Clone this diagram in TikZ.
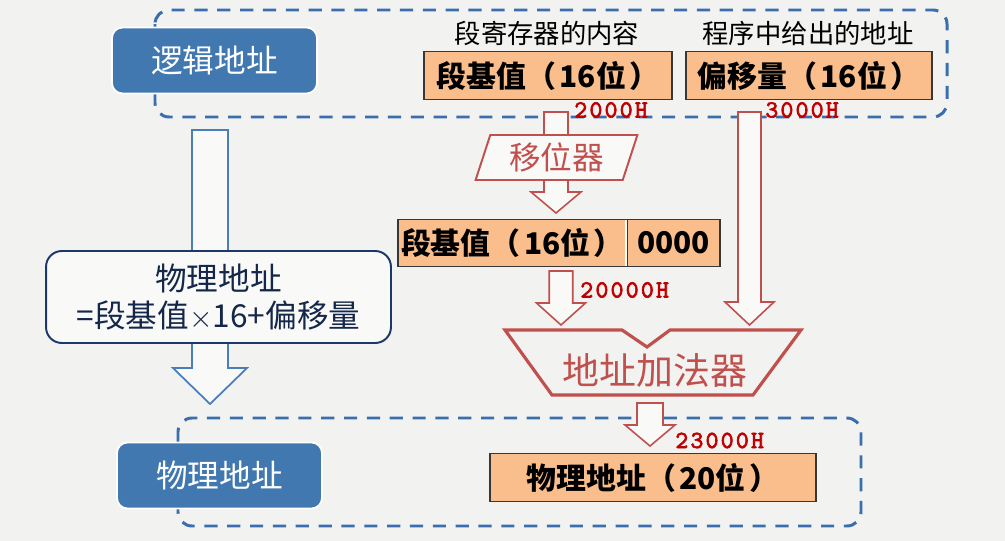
\documentclass[tikz,border=0pt]{standalone}
\usepackage{fontspec}
\setmainfont{Noto Sans CJK SC}
\newfontfamily\hexfont[FakeBold=2.5,LetterSpace=9]{lmmono10-regular.otf}
\usetikzlibrary{shapes.geometric, calc, positioning}
\definecolor{bggray}{RGB}{242,242,240}
\definecolor{tagblue}{RGB}{65,120,176}
\definecolor{grpblue}{RGB}{58,110,172}
\definecolor{regorange}{RGB}{250,190,140}
\definecolor{regline}{RGB}{55,55,55}
\definecolor{unitred}{RGB}{192,80,77}
\definecolor{hexred}{RGB}{192,0,0}
\definecolor{navy1}{RGB}{28,55,105}
\definecolor{arrowblue}{RGB}{74,126,187}
\definecolor{paper}{RGB}{249,249,248}
% hollow block arrow: style, from, to, half shaft, half head, head length
\newcommand{\fatarrow}[6]{%
  \draw[#1] let \p1=(#2), \p2=(#3) in
    (\x1-#4,\y1) -- (\x1+#4,\y1) -- (\x1+#4,\y2+#6) -- (\x1+#5,\y2+#6)
    -- (\x1,\y2) -- (\x1-#5,\y2+#6) -- (\x1-#4,\y2+#6) -- cycle;}
\newcommand{\pgap}{\hspace{0.12em}}

\begin{document}
\begin{tikzpicture}[x=0.02cm, y=-0.02cm,
  tag/.style={fill=tagblue, draw=white, line width=1pt, rounded corners=6pt, text=white,
    font=\fontsize{18}{21}\selectfont, minimum width=4.1cm, minimum height=1.32cm},
  reg/.style={fill=regorange, draw=regline, line width=0.7pt, inner sep=0pt,
    font=\bfseries\fontsize{17}{20}\selectfont, minimum height=0.95cm},
  grp/.style={draw=grpblue, line width=1.7pt, dash pattern=on 7.5pt off 5.5pt, rounded corners=8pt},
  hex/.style={text=hexred, font=\hexfont\fontsize{14}{14}\selectfont, anchor=west, inner sep=0pt},
  note/.style={font=\fontsize{15}{18}\selectfont},
  formula/.style={draw=navy1, line width=1.1pt, fill=paper, rounded corners=9pt, align=center,
    text=navy1!70!black, font=\fontsize{18}{21}\selectfont, minimum width=6.9cm, minimum height=1.84cm},
  shifter/.style={trapezium, trapezium left angle=74, trapezium right angle=106, trapezium stretches=true,
    minimum width=3.26cm, minimum height=0.9cm, draw=unitred, line width=1.1pt, fill=paper,
    text=unitred, font=\fontsize{18}{21}\selectfont},
  adderline/.style={draw=unitred, line width=1.8pt},
  redarrow/.style={draw=unitred, fill=paper, line width=0.9pt},
  bluearrow/.style={draw=arrowblue, fill=paper, line width=1pt}
]
  \fill[bggray] (0,0) rectangle (1005,541);
  \useasboundingbox (0,0) rectangle (1005,541);

  \draw[grp] (155,10) rectangle (947,117);
  \draw[grp] (178,418) rectangle (861,526);

  \coordinate (map1) at (210,130);
  \coordinate (map2) at (210,404);
  \fatarrow{bluearrow}{map1}{map2}{0.36cm}{0.74cm}{0.72cm}
  \node[formula] (rule) at (218.5,297) {物理地址\\=段基值$\times$16+偏移量};

  \node[tag] (logic) at (214.5,60.5) {逻辑地址};
  \node[tag] (phys) at (219.5,475.5) {物理地址};

  \node[note] (seglbl) at (547,33) {段寄存器的内容};
  \node[note] (offlbl) at (808,33) {程序中给出的地址};

  \node[reg, minimum width=4.96cm] (segbase) at (548,75.5) {段基值（\pgap16位\pgap）};
  \node[reg, minimum width=4.92cm] (offset) at (809,75.5) {偏移量（\pgap16位\pgap）};
  \node[reg, minimum width=4.58cm] (shifted) at (512.5,243) {段基值（\pgap16位\pgap）};
  \node[reg, minimum width=1.86cm] (zeros) at (673.5,243) {0000};
  \draw[white, line width=1.2pt] ([yshift=-0.6pt]zeros.north west) -- ([yshift=0.6pt]zeros.south west);
  \node[reg, minimum width=6.52cm] (result) at (653,477.5) {物理地址（\pgap20位\pgap）};

  \coordinate (s1) at (556,112);
  \coordinate (s2) at (556,213);
  \coordinate (t1) at (561,271);
  \coordinate (t2) at (561,325);
  \coordinate (o1) at (749.5,112);
  \coordinate (o2) at (749.5,325);
  \coordinate (r1) at (650,403);
  \coordinate (r2) at (650,446);
  \fatarrow{redarrow}{s1}{s2}{0.24cm}{0.50cm}{0.42cm}
  \fatarrow{redarrow}{t1}{t2}{0.235cm}{0.49cm}{0.44cm}
  \fatarrow{redarrow}{o1}{o2}{0.23cm}{0.49cm}{0.46cm}
  \fatarrow{redarrow}{r1}{r2}{0.26cm}{0.50cm}{0.42cm}

  \node[shifter] (shift) at (556.5,157.5) {移位器};

  \draw[adderline] (505,330) -- (622,330) -- (647,347) -- (670,330) -- (801,330)
    -- (753,395) -- (552,395) -- cycle;
  \node[text=unitred, font=\fontsize{21}{24}\selectfont] (adder) at (655,370) {地址加法器};

  \node[hex] (hexseg) at (574,110) {2000H};
  \node[hex] (hexoff) at (765,110) {3000H};
  \node[hex] (hexshift) at (580,290) {20000H};
  \node[hex] (hexsum) at (675,440.5) {23000H};
\end{tikzpicture}
\end{document}
